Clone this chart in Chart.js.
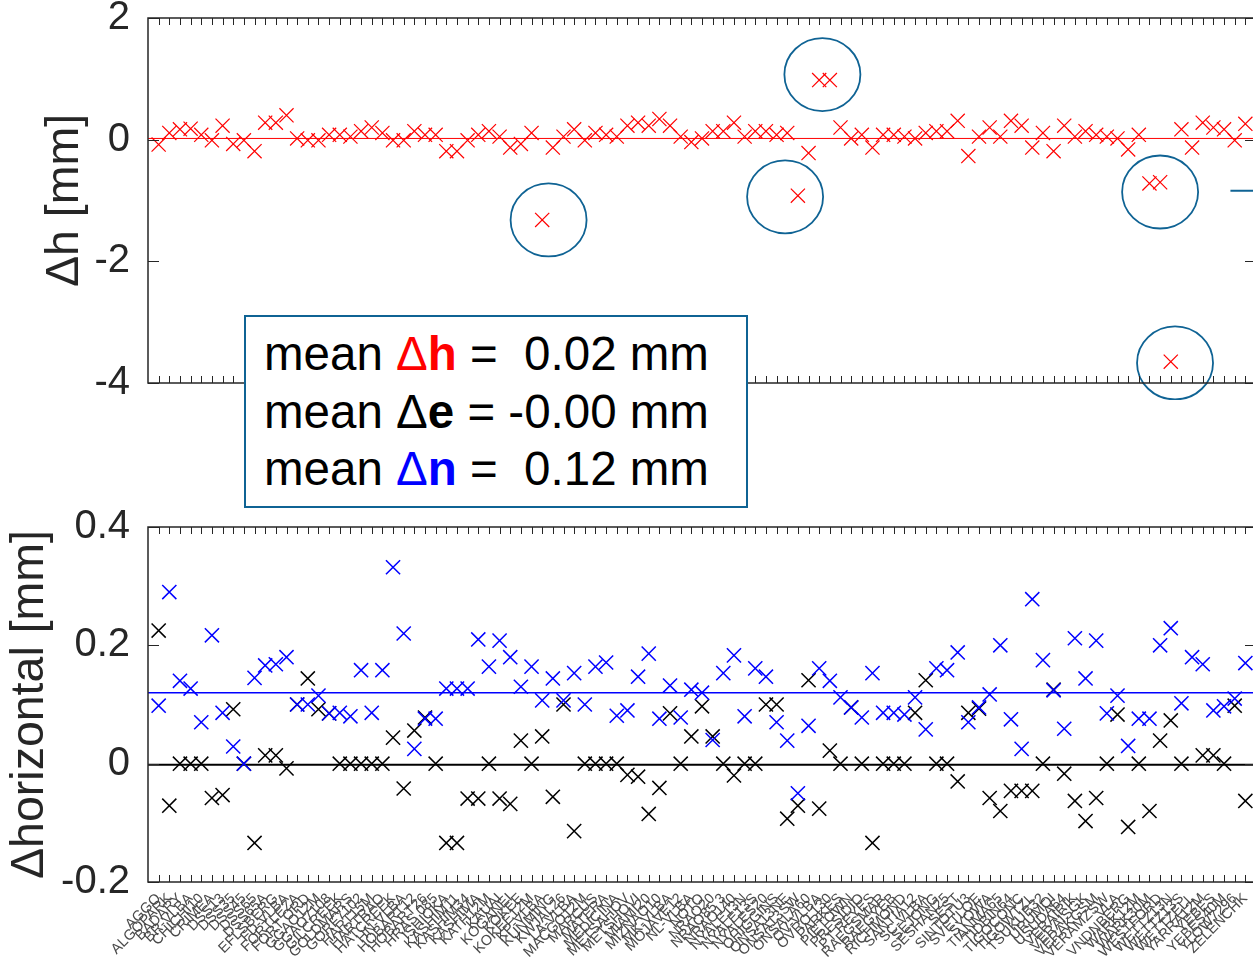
<!DOCTYPE html>
<html>
<head>
<meta charset="utf-8">
<script src="https://cdn.jsdelivr.net/npm/chart.js@4.4.1/dist/chart.umd.min.js"></script>
<style>
  html, body { margin: 0; padding: 0; background: #fff; overflow: hidden; }
  body { width: 1253px; height: 965px; position: relative; }
  canvas { position: absolute; left: 0; }
  #cTop { top: 0; }
  #cBot { top: 500px; }
  #meanBox {
    position: absolute; left: 244px; top: 315px; width: 504px; height: 193px;
    box-sizing: border-box; border: 2px solid #0f6394; background: #fff;
    padding: 8px 0 0 18px; white-space: pre; color: #000;
    font-family: "Liberation Sans", Arial, sans-serif; font-size: 47.5px; line-height: 57.5px;
  }
</style>
</head>
<body>
<canvas id="cTop" width="1300" height="400"></canvas>
<canvas id="cBot" width="1300" height="465"></canvas>
<div id="meanBox"></div>
<script>
const stations = [
  'AGGO','ALGOPARK','BADARY','BR-VLBA','CHICHI10','CRIMEA','DSS13','DSS35','DSS45','DSS65',
  'DSS65A','EFLSBERG','FD-VLBA','FORTLEZA','FORT ORD','GGAO12M','GGAO7108','GILCREEK','GOLDMARS','GORF7102',
  'HART15M','HARTRAO','HATCREEK','HN-VLBA','HOBART12','HOBART26','HRAS 085','ISHIOKA','KASHIM11','KASHIM34',
  'KASHIMA','KATH12M','KAUAI','KOGANEI','KOKEE','KOKEE12M','KP-VLBA','KUNMING','KWJAL26','LA-VLBA',
  'MACGO12M','MARCUS','MATERA','MEDICINA','METSAHOV','METSHOVI','MIAMI20','MIZNAO10','MK-VLBA','MOJAVE12',
  'NL-VLBA','NOTO','NRAO20','NRAO85 3','NRAO140','NYALE13N','NYALE13S','NYALES20','OHIGGINS','ONSA13NE',
  'ONSA13SW','ONSALA60','OV-VLBA','OVRO 130','PARKES','PIETOWN','PRESIDIO','PT REYES','RAEGSMAR','RAEGYEB',
  'RICHMOND','SANTIA12','SC-VLBA','SEJONG','SESHAN25','SEST','SINTOTU3','SVETLOE','SYOWA','TIANMA65',
  'TIDBIN64','TIGOCONC','TIGOWTZL','TSUKUB32','URUMQI','USUDA64','VERAIRIK','VERAISGK','VERAKGSM','VERAMZSW',
  'VLA','VNDNBERG','WARK12M','WARK30M','WESTFORD','WETTZ13N','WETTZ13S','WETTZELL','YARRA12M','YEBES',
  'YEBES40M','YLOW7296','ZELENCHK'
];

// height differences [mm]
const dH = [
  -0.08, 0.11, 0.17, 0.18, 0.08, -0.01, 0.23, -0.07, -0.01, -0.19,
  0.28, 0.28, 0.40, 0.02, -0.01, -0.01, 0.08, 0.08, 0.05, 0.14,
  0.20, 0.11, -0.01, -0.01, 0.14, 0.08, 0.08, -0.19, -0.19, -0.01,
  0.08, 0.14, 0.05, -0.13, -0.07, 0.11, -1.32, -0.13, 0.05, 0.17,
  -0.01, 0.11, 0.08, 0.05, 0.23, 0.28, 0.23, 0.34, 0.23, 0.05,
  -0.04, 0.02, 0.14, 0.14, 0.28, 0.05, 0.14, 0.14, 0.08, 0.11,
  -0.92, -0.22, 0.98, 0.98, 0.20, 0.02, 0.08, -0.13, 0.08, 0.08,
  0.05, 0.02, 0.11, 0.14, 0.14, 0.31, -0.27, 0.05, 0.20, 0.05,
  0.31, 0.23, -0.13, 0.11, -0.19, 0.23, 0.05, 0.14, 0.08, 0.05,
  0.02, -0.16, 0.08, -0.72, -0.70, -3.65, 0.17, -0.13, 0.28, 0.20,
  0.17, -0.01, 0.26
];

// east differences [mm]
const dE = [
  0.225, -0.071, 0, 0, 0, -0.058, -0.053, 0.092, 0, -0.134,
  0.014, 0.014, -0.008, 0.10, 0.144, 0.092, 0.085, 0, 0, 0,
  0, 0, 0.044, -0.042, 0.056, 0.078, 0, -0.134, -0.134, -0.059,
  -0.059, 0, -0.059, -0.068, 0.039, 0, 0.046, -0.056, 0.10, -0.114,
  0, 0, 0, 0, -0.019, -0.022, -0.085, -0.041, 0.085, 0,
  0.046, 0.097, 0.046, 0, -0.02, 0, 0, 0.10, 0.10, -0.093,
  -0.071, 0.141, -0.076, 0.022, 0, 0.095, 0, -0.134, 0, 0,
  0, 0.086, 0.141, 0, 0, -0.03, 0.086, 0.093, -0.058, -0.08,
  -0.046, -0.046, -0.046, 0, 0.125, -0.017, -0.063, -0.097, -0.058, 0,
  0.083, -0.107, 0, -0.08, 0.039, 0.073, 0, -0.22, 0.014, 0.014,
  0, 0.098, -0.063
];

// north differences [mm]
const dN = [
  0.098, 0.29, 0.14, 0.127, 0.07, 0.217, 0.086, 0.029, 0.0, 0.145,
  0.166, 0.168, 0.18, 0.10, 0.10, 0.115, 0.085, 0.086, 0.08, 0.158,
  0.086, 0.158, 0.332, 0.22, 0.025, 0.076, 0.076, 0.127, 0.127, 0.127,
  0.21, 0.164, 0.208, 0.18, 0.13, 0.164, 0.107, 0.144, 0.107, 0.153,
  0.10, 0.164, 0.171, 0.081, 0.09, 0.147, 0.186, 0.076, 0.132, 0.078,
  0.125, 0.12, 0.04, 0.153, 0.183, 0.08, 0.161, 0.147, 0.07, 0.039,
  -0.05, 0.064, 0.161, 0.14, 0.112, 0.095, 0.078, 0.153, 0.086, 0.086,
  0.083, 0.112, 0.058, 0.161, 0.158, 0.188, 0.07, 0.095, 0.117, 0.20,
  0.075, 0.025, 0.278, 0.175, 0.124, 0.059, 0.212, 0.144, 0.208, 0.085,
  0.115, 0.03, 0.076, 0.076, 0.20, 0.229, 0.102, 0.18, 0.168, 0.09,
  0.097, 0.11, 0.17
];

const meanNames = ['h', 'e', 'n'];
const meanValues = [0.02, -0.002, 0.12];
const hTicks = [-4, -2, 0, 2];
const horTicks = [-0.2, 0, 0.2, 0.4];

// outlier rings in data coordinates [station index, mm]
const rings = [[37.6, -1.32], [63.3, 1.07], [59.8, -0.94], [95.0, -0.86], [96.4, -3.67]];

const FONT = '"Liberation Sans", Arial, Helvetica, sans-serif';
const AXIS = '#262626';
const RING = '#0f6394';
const nX = stations.length + 1;
const pts = (arr) => arr.map((v, i) => ({ x: i + 1, y: v }));
const flat = (v) => [{ x: 0, y: v }, { x: nX, y: v }];

const boxPlugin = {
  id: 'matlabBox',
  afterDraw(chart) {
    const { ctx, chartArea: a, scales: { x, y } } = chart;
    ctx.save();
    ctx.strokeStyle = AXIS;
    ctx.lineWidth = 1;
    ctx.beginPath();
    for (let i = 1; i <= stations.length; i++) {
      const px = Math.round(x.getPixelForValue(i)) + 0.5;
      ctx.moveTo(px, a.top); ctx.lineTo(px, a.top + 7);
      ctx.moveTo(px, a.bottom); ctx.lineTo(px, a.bottom - 7);
    }
    y.ticks.forEach(t => {
      const py = Math.round(y.getPixelForValue(t.value)) + 0.5;
      ctx.moveTo(a.left, py); ctx.lineTo(a.left + 11, py);
      ctx.moveTo(a.right, py); ctx.lineTo(a.right - 11, py);
    });
    ctx.stroke();
    ctx.lineWidth = 1.5;
    ctx.strokeRect(a.left, a.top, a.right - a.left, a.bottom - a.top);
    ctx.restore();
  }
};

const ringPlugin = {
  id: 'rings',
  afterDatasetsDraw(chart) {
    const { ctx, chartArea: a, scales: { x, y } } = chart;
    ctx.save();
    ctx.strokeStyle = RING;
    ctx.lineWidth = 1.8;
    rings.forEach(([cx, cy]) => {
      ctx.beginPath();
      ctx.ellipse(x.getPixelForValue(cx), y.getPixelForValue(cy), 38, 36.5, 0, 0, 2 * Math.PI);
      ctx.stroke();
    });
    // leader line leaving the figure on the right
    const ly = y.getPixelForValue(-0.84);
    ctx.beginPath();
    ctx.moveTo(x.getPixelForValue(101.6), ly);
    ctx.lineTo(a.right + 40, ly);
    ctx.stroke();
    ctx.restore();
  }
};

function yAxis(min, max, ticks, title, titlePad, fmt) {
  return {
    min, max,
    afterBuildTicks: (s) => { s.ticks = ticks.map(v => ({ value: v })); },
    afterFit: (s) => { s.width = 148; s.paddingTop = 0; s.paddingBottom = 0; },
    ticks: { font: { family: FONT, size: 40 }, color: AXIS, padding: 18, callback: fmt },
    grid: { display: false, drawTicks: false },
    border: { display: false },
    title: {
      display: true, text: title, color: AXIS,
      font: { family: FONT, size: 46.5, lineHeight: 1 },
      padding: { top: titlePad, bottom: 0 }
    }
  };
}

const markerSet = (data, color, width, extra) => Object.assign({
  type: 'scatter', data, pointStyle: 'crossRot', pointRadius: 10, pointHoverRadius: 10,
  borderColor: color, pointBorderColor: color, backgroundColor: color,
  borderWidth: width, pointBorderWidth: width
}, extra || {});

const lineSet = (v, color, width) => ({
  type: 'line', data: flat(v), borderColor: color, borderWidth: width,
  pointRadius: 0, showLine: true, fill: false
});

const common = {
  responsive: false, animation: false,
  plugins: { legend: { display: false }, tooltip: { enabled: false } }
};

new Chart(document.getElementById('cTop'), {
  type: 'scatter',
  data: {
    datasets: [
      markerSet(pts(dH), '#ff0000', 1.2),
      lineSet(meanValues[0], '#ff0000', 1)
    ]
  },
  options: Object.assign({}, common, {
    layout: { padding: { left: 0, top: 18, right: 44, bottom: 17 } },
    scales: {
      x: { type: 'linear', display: false, min: 0, max: nX },
      y: yAxis(-4, 2, hTicks, '\u0394h [mm]', 42, (v) => String(v))
    }
  }),
  plugins: [boxPlugin, ringPlugin]
});

new Chart(document.getElementById('cBot'), {
  type: 'scatter',
  data: {
    datasets: [
      markerSet(pts(dN), '#0000ff', 1.5),
      markerSet(pts(dE), '#000000', 1.5, { clip: false }),
      lineSet(meanValues[2], '#0000ff', 1.5),
      lineSet(meanValues[1], '#000000', 2)
    ]
  },
  options: Object.assign({}, common, {
    layout: { padding: { left: 0, top: 27, right: 44, bottom: 0 } },
    scales: {
      x: {
        type: 'linear', min: 0, max: nX,
        afterBuildTicks: (s) => { s.ticks = stations.map((_, i) => ({ value: i + 1 })); },
        afterFit: (s) => { s.height = 83; s.paddingLeft = 0; s.paddingRight = 0; },
        ticks: {
          autoSkip: false, minRotation: 45, maxRotation: 45, padding: 8,
          font: { family: FONT, size: 14.5 }, color: '#4a4a4a',
          callback: (v) => stations[v - 1] || ''
        },
        grid: { display: false, drawTicks: false },
        border: { display: false }
      },
      y: yAxis(-0.2, 0.4, horTicks, '\u0394horizontal [mm]', 7,
        (v) => Math.abs(v) < 1e-9 ? '0' : String(+v.toFixed(1)))
    }
  }),
  plugins: [boxPlugin]
});

// mean summary box
const meanColors = ['#ff0000', '#000000', '#0000ff'];
const fmtMean = (v) => (v < 0 ? '' : ' ') + v.toFixed(2);
document.getElementById('meanBox').innerHTML = meanNames.map((n, i) => {
  const c = meanColors[i];
  return '<div>mean <span style="color:' + c + '">\u0394<b>' + n + '</b></span> = ' +
    fmtMean(meanValues[i]) + ' mm</div>';
}).join('');
</script>
</body>
</html>
